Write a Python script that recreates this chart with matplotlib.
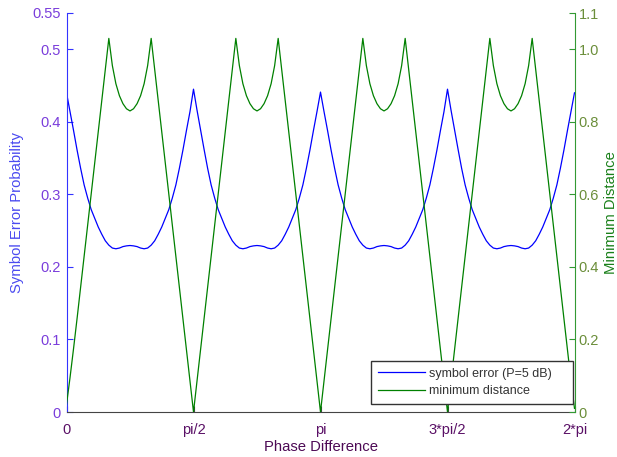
import numpy as np
import matplotlib
matplotlib.use("Agg")
import matplotlib.pyplot as plt

plt.rcParams['font.family'] = ['Liberation Sans', 'DejaVu Sans']

# phase difference samples (degrees), 0..360 step 2.5
phase_deg = [i * 2.5 for i in range(145)]

symbol_error = [
    0.440, 0.414, 0.388, 0.361, 0.336, 0.313, 0.295, 0.279, 0.267, 0.255, 0.245, 0.236,
    0.230, 0.226, 0.225, 0.226, 0.228, 0.229, 0.2295, 0.229, 0.228, 0.226, 0.225, 0.226,
    0.230, 0.236, 0.245, 0.255, 0.267, 0.279, 0.295, 0.313, 0.336, 0.361, 0.388, 0.414,
    0.445, 0.416, 0.389, 0.362, 0.336, 0.313, 0.295, 0.279, 0.267, 0.255, 0.245, 0.236,
    0.230, 0.226, 0.225, 0.226, 0.228, 0.229, 0.2295, 0.229, 0.228, 0.226, 0.225, 0.226,
    0.230, 0.236, 0.245, 0.255, 0.267, 0.279, 0.295, 0.313, 0.336, 0.361, 0.388, 0.414,
    0.441, 0.414, 0.388, 0.361, 0.336, 0.313, 0.295, 0.279, 0.267, 0.255, 0.245, 0.236,
    0.230, 0.226, 0.225, 0.226, 0.228, 0.229, 0.2295, 0.229, 0.228, 0.226, 0.225, 0.226,
    0.230, 0.236, 0.245, 0.255, 0.267, 0.279, 0.295, 0.313, 0.336, 0.361, 0.388, 0.414,
    0.445, 0.416, 0.389, 0.362, 0.336, 0.313, 0.295, 0.279, 0.267, 0.255, 0.245, 0.236,
    0.230, 0.226, 0.225, 0.226, 0.228, 0.229, 0.2295, 0.229, 0.228, 0.226, 0.225, 0.226,
    0.230, 0.236, 0.245, 0.255, 0.267, 0.279, 0.295, 0.313, 0.336, 0.361, 0.388, 0.414,
    0.440,
]

min_distance = [
    0.020, 0.095, 0.175, 0.258, 0.344, 0.430, 0.515, 0.600, 0.686, 0.772, 0.858, 0.944,
    1.030, 0.955, 0.905, 0.872, 0.850, 0.836, 0.830, 0.836, 0.850, 0.872, 0.905, 0.955,
    1.030, 0.944, 0.858, 0.772, 0.686, 0.600, 0.515, 0.430, 0.344, 0.258, 0.172, 0.086,
    0.000, 0.086, 0.172, 0.258, 0.344, 0.430, 0.515, 0.600, 0.686, 0.772, 0.858, 0.944,
    1.030, 0.955, 0.905, 0.872, 0.850, 0.836, 0.830, 0.836, 0.850, 0.872, 0.905, 0.955,
    1.030, 0.944, 0.858, 0.772, 0.686, 0.600, 0.515, 0.430, 0.344, 0.258, 0.172, 0.086,
    0.000, 0.086, 0.172, 0.258, 0.344, 0.430, 0.515, 0.600, 0.686, 0.772, 0.858, 0.944,
    1.030, 0.955, 0.905, 0.872, 0.850, 0.836, 0.830, 0.836, 0.850, 0.872, 0.905, 0.955,
    1.030, 0.944, 0.858, 0.772, 0.686, 0.600, 0.515, 0.430, 0.344, 0.258, 0.172, 0.086,
    0.000, 0.086, 0.172, 0.258, 0.344, 0.430, 0.515, 0.600, 0.686, 0.772, 0.858, 0.944,
    1.030, 0.955, 0.905, 0.872, 0.850, 0.836, 0.830, 0.836, 0.850, 0.872, 0.905, 0.955,
    1.030, 0.944, 0.858, 0.772, 0.686, 0.600, 0.515, 0.430, 0.344, 0.258, 0.172, 0.086,
    0.010,
]

x_tick_values = [0, np.pi / 2, np.pi, 3 * np.pi / 2, 2 * np.pi]
x_tick_labels = ['0', 'pi/2', 'pi', '3*pi/2', '2*pi']
left_ticks = [0, 0.1, 0.2, 0.3, 0.4, 0.5, 0.55]
left_tick_labels = ['0', '0.1', '0.2', '0.3', '0.4', '0.5', '0.55']
right_ticks = [0, 0.2, 0.4, 0.6, 0.8, 1.0, 1.1]
right_tick_labels = ['0', '0.2', '0.4', '0.6', '0.8', '1.0', '1.1']

x = np.deg2rad(phase_deg)

fig = plt.figure(figsize=(6.17, 4.57), dpi=100)
ax = fig.add_axes([66.5 / 617, 45 / 457, (574.5 - 66.5) / 617, (412 - 13) / 457])
ax2 = ax.twinx()

blue = '#0000ff'
green = '#008000'
l1, = ax.plot(x, symbol_error, color=blue, lw=0.9)
l2, = ax2.plot(x, min_distance, color=green, lw=0.9)

ax.set_xlim(0, 2 * np.pi)
ax.set_ylim(0, 0.55)
ax2.set_ylim(0, 1.1)

ax.set_xticks(x_tick_values)
ax.set_xticklabels(x_tick_labels)
ax.set_yticks(left_ticks)
ax.set_yticklabels(left_tick_labels)
ax2.set_yticks(right_ticks)
ax2.set_yticklabels(right_tick_labels)

fs = 10.5
ax.tick_params(axis='x', direction='in', length=4, colors='#444444', labelcolor='#5a1066', labelsize=fs, pad=8)
ax.tick_params(axis='y', direction='in', length=4, colors='#3333ff', labelcolor='#7a3ddb', labelsize=fs, pad=4)
ax2.tick_params(axis='y', direction='in', length=4, colors='#339933', labelcolor='#6b8e3a', labelsize=fs, pad=3)

for a in (ax, ax2):
    a.spines['top'].set_visible(False)
    a.set_facecolor('none')
ax.spines['left'].set_color('#3333ff')
ax.spines['bottom'].set_color('#444444')
ax2.spines['right'].set_color('#339933')
ax2.spines['left'].set_visible(False)
ax2.spines['bottom'].set_visible(False)
ax.spines['right'].set_visible(False)

ax.set_xlabel('Phase Difference', color='#4d0a55', fontsize=10.75, labelpad=2)
ax.set_ylabel('Symbol Error Probability', color='#4a4af0', fontsize=10.75, labelpad=6)
ax2.set_ylabel('Minimum Distance', color='#1a801a', fontsize=10.75, labelpad=3.5)

leg = ax2.legend([l1, l2], ['symbol error (P=5 dB)', 'minimum distance'],
                 loc='lower left', bbox_to_anchor=(371 / 617, 1 - 404 / 457, 202 / 617, 43 / 457),
                 bbox_transform=fig.transFigure, borderaxespad=0, mode='expand',
                 fontsize=9, frameon=True, fancybox=False,
                 edgecolor='#333333', framealpha=1,
                 handlelength=3.75, handletextpad=0.35, labelspacing=0.45, borderpad=0.55)
leg.get_frame().set_linewidth(1.0)
for t in leg.get_texts():
    t.set_color('#333333')

fig.savefig('out.png', dpi=100, facecolor='white')
